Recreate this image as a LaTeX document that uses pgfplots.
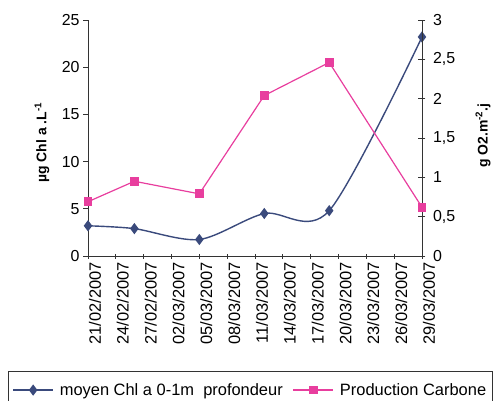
\documentclass[border=0pt]{standalone}
\usepackage{fontspec}
\setmainfont{Liberation Sans}
\usepackage{pgfplots}
\pgfplotsset{compat=1.18}
\definecolor{chl}{HTML}{3A4A7C}
\definecolor{prod}{HTML}{E83E9E}
\definecolor{axc}{HTML}{333333}
\begin{document}
\begin{tikzpicture}
\path[use as bounding box] (-88bp,-145bp) rectangle (408bp,256bp);
\begin{axis}[
  scale only axis, width=334bp, height=236bp, at={(0,0)}, anchor=south west,
  xmin=0, xmax=36, ymin=0, ymax=25,
  axis y line*=left, axis x line*=bottom,
  x axis line style={-, line width=0.9bp, axc},
  y axis line style={-, line width=0.9bp, axc},
  every tick/.style={line width=0.9bp, axc},
  major tick length=5bp,
  xtick align=center, ytick align=outside,
  xtick={0,3,...,36},
  xticklabels={21/02/2007,24/02/2007,27/02/2007,02/03/2007,05/03/2007,08/03/2007,11/03/2007,14/03/2007,17/03/2007,20/03/2007,23/03/2007,26/03/2007,29/03/2007},
  x tick label style={rotate=90, anchor=east, font=\fontsize{16.5}{16.5}\selectfont, yshift=-7bp},
  ytick={0,5,10,15,20,25},
  y tick label style={font=\fontsize{16}{16}\selectfont},
  /pgf/number format/assume math mode=true,
  ylabel={\textbf{µg Chl a .L\textsuperscript{-1}}},
  ylabel style={at={(axis description cs:-0.1377,0.48)}, anchor=center, font=\fontsize{14}{14}\selectfont},
]
\addplot[chl, line width=1.4bp, smooth, tension=0.5, mark=diamond*, mark size=4.5bp, mark options={solid, fill=chl}]
  coordinates {(0,3.2) (5,2.9) (12,1.75) (19,4.5) (26,4.8) (36,23.2)};
\end{axis}
\begin{axis}[
  scale only axis, width=334bp, height=236bp, at={(0,0)}, anchor=south west,
  xmin=0, xmax=36, ymin=0, ymax=3,
  axis y line*=right, axis x line=none,
  y axis line style={-, line width=0.9bp, axc},
  every tick/.style={line width=0.9bp, axc},
  major tick length=7bp,
  ytick align=center,
  ytick={0,0.5,1,1.5,2,2.5,3},
  /pgf/number format/use comma,
  /pgf/number format/assume math mode=true,
  y tick label style={font=\fontsize{16}{16}\selectfont, xshift=4bp},
  ylabel={\textbf{g O2.m\textsuperscript{-2}.j}},
  ylabel style={at={(axis description cs:1.1826,0.51)}, anchor=center, rotate=0, font=\fontsize{14}{14}\selectfont},
  legend style={at={(axis description cs:-0.2395,-0.487)}, anchor=north west, legend columns=2, draw=axc, line width=0.9bp, inner xsep=4bp, inner ysep=10bp, font=\fontsize{16.5}{16.5}\selectfont,
    /tikz/every odd column/.append style={column sep=4bp},
    /tikz/every even column/.append style={column sep=8bp}},
  legend image code/.code={\draw[mark repeat=2,mark phase=2,#1] plot coordinates {(0bp,0bp) (20bp,0bp) (40bp,0bp)};},
]
\addlegendimage{chl, line width=1.4bp, mark=diamond*, mark size=4.5bp, mark options={solid, fill=chl}}
\addlegendentry{moyen Chl a 0-1m\ \ profondeur}
\addplot[prod, line width=1.2bp, mark=square*, mark size=3.8bp, mark options={solid, fill=prod}]
  coordinates {(0,0.69) (5,0.95) (12,0.79) (19,2.04) (26,2.46) (36,0.62)};
\addlegendentry{Production Carbone}
\end{axis}
\end{tikzpicture}
\end{document}
